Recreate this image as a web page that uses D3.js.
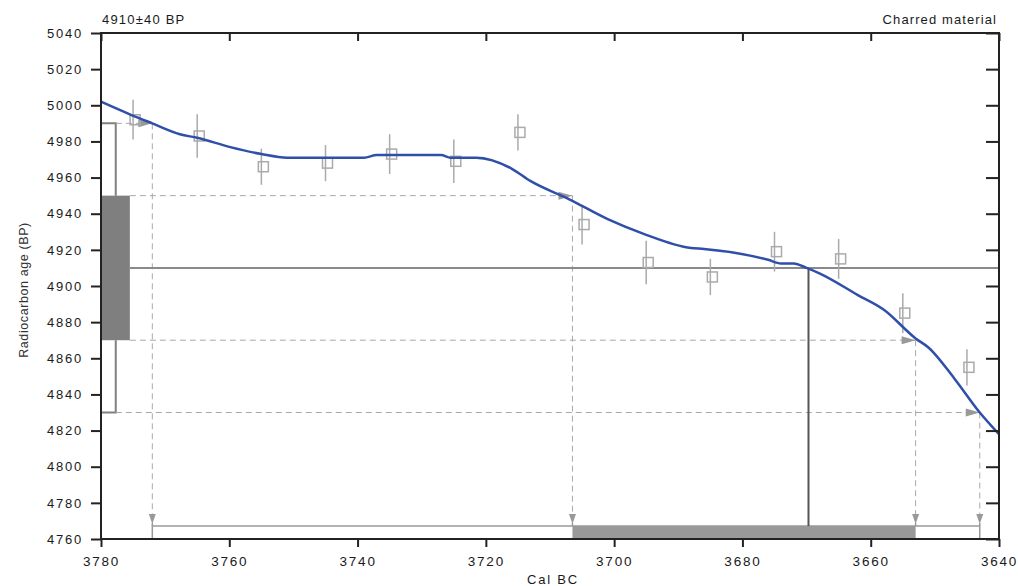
<!DOCTYPE html>
<html>
<head>
<meta charset="utf-8">
<script src="https://cdn.jsdelivr.net/npm/d3@7"></script>
<style>
  body { margin: 0; background: #fff; }
  svg { display: block; font-family: "Liberation Sans", Arial, sans-serif; }
</style>
</head>
<body>
<script>
// calibration curve (cal BC, BP)
const curveYears = [3780, 3775.5, 3772, 3767.7, 3765, 3760, 3755, 3751, 3745, 3739, 3737, 3727, 3725.5, 3721.5, 3716, 3713, 3707, 3701, 3695.5, 3688, 3686, 3676, 3674, 3672, 3670, 3668, 3662, 3658, 3653, 3651, 3647, 3643, 3640];
const curveBP = [5002, 4995, 4990, 4984, 4982, 4977, 4973, 4971, 4971, 4971, 4972.5, 4972.5, 4971, 4971, 4965, 4958, 4948, 4937, 4929, 4921, 4920.5, 4914.5, 4912.5, 4912.5, 4910, 4907, 4895, 4887, 4871, 4866, 4849, 4830, 4818];

// decadal data points with error bars
const pointYears = [3775, 3765, 3755, 3745, 3735, 3725, 3715, 3705, 3695, 3685, 3675, 3665, 3655, 3645];
const pointBP = [4992, 4983, 4966, 4968, 4973, 4969, 4985, 4934, 4913, 4905, 4919, 4915, 4885, 4855];
const pointErr = [11, 12, 10, 10, 11, 12, 10, 11, 12, 10, 11, 11, 11, 10];

// sample
const sampleAge = 4910;
const sampleErr = 40;
const sigmaLevels = [4990, 4950, 4870, 4830];     // +2s, +1s, -1s, -2s
const sigmaYears = [3772, 3706.5, 3653, 3643];      // curve intersections
const interceptYear = 3669.7;

const xTicks = [3780, 3760, 3740, 3720, 3700, 3680, 3660, 3640];
const yTicks = [5040, 5020, 5000, 4980, 4960, 4940, 4920, 4900, 4880, 4860, 4840, 4820, 4800, 4780, 4760];

const width = 1018, height = 586;
const mLeft = 101, mRight = 999, mTop = 33, mBottom = 539;

const svg = d3.select("body").append("svg")
  .attr("width", width)
  .attr("height", height);

const x = d3.scaleLinear().domain([3780, 3640]).range([mLeft, mRight]);
const y = d3.scaleLinear().domain([4760, 5040]).range([mBottom, mTop]);

const gridGrey = "#a8a8a8";
const boxRight = x(3775.5);
const bracketX = x(3777.7);
const barH = 13;

// left box and bracket
svg.append("rect")
  .attr("x", mLeft).attr("y", y(sampleAge + sampleErr))
  .attr("width", boxRight - mLeft)
  .attr("height", y(sampleAge - sampleErr) - y(sampleAge + sampleErr))
  .attr("fill", "#7f7f7f");

svg.append("path")
  .attr("d", "M" + mLeft + "," + y(sampleAge + 2 * sampleErr) +
    "H" + bracketX + "V" + y(sampleAge + sampleErr) +
    "M" + bracketX + "," + y(sampleAge - sampleErr) +
    "V" + y(sampleAge - 2 * sampleErr) + "H" + mLeft)
  .attr("fill", "none").attr("stroke", "#808080").attr("stroke-width", 2);

// bottom range bars
svg.append("rect")
  .attr("x", x(sigmaYears[0])).attr("y", mBottom - barH)
  .attr("width", x(sigmaYears[3]) - x(sigmaYears[0])).attr("height", barH)
  .attr("fill", "#fff").attr("stroke", "#9a9a9a").attr("stroke-width", 1.5);
svg.append("rect")
  .attr("x", x(sigmaYears[1])).attr("y", mBottom - barH)
  .attr("width", x(sigmaYears[2]) - x(sigmaYears[1])).attr("height", barH)
  .attr("fill", "#999");

// dashed guides
sigmaLevels.forEach((lvl, i) => {
  const x0 = (i === 0 || i === 3) ? bracketX : boxRight;
  svg.append("line")
    .attr("x1", x0).attr("x2", x(sigmaYears[i]))
    .attr("y1", y(lvl)).attr("y2", y(lvl))
    .attr("stroke", gridGrey).attr("stroke-width", 1)
    .attr("stroke-dasharray", "6,4");
  svg.append("line")
    .attr("x1", x(sigmaYears[i])).attr("x2", x(sigmaYears[i]))
    .attr("y1", y(lvl)).attr("y2", mBottom - barH - 10)
    .attr("stroke", gridGrey).attr("stroke-width", 1)
    .attr("stroke-dasharray", "6,4");
  // arrow into curve
  const ax = x(sigmaYears[i]), ay = y(lvl);
  svg.append("path")
    .attr("d", "M" + (ax - 14) + "," + (ay - 4) + "L" + ax + "," + ay + "L" + (ax - 14) + "," + (ay + 4) + "Z")
    .attr("fill", "#999");
  // arrow down onto bar
  const by = mBottom - barH;
  svg.append("path")
    .attr("d", "M" + (ax - 3.5) + "," + (by - 12) + "L" + (ax + 3.5) + "," + (by - 12) + "L" + ax + "," + (by - 2) + "Z")
    .attr("fill", "#999");
  svg.append("line")
    .attr("x1", ax).attr("x2", ax).attr("y1", by - 3).attr("y2", by)
    .attr("stroke", "#999").attr("stroke-width", 1.5);
});

// sample age line and intercept
svg.append("line")
  .attr("x1", boxRight).attr("x2", mRight)
  .attr("y1", y(sampleAge)).attr("y2", y(sampleAge))
  .attr("stroke", "#8a8a8a").attr("stroke-width", 2);
svg.append("line")
  .attr("x1", x(interceptYear)).attr("x2", x(interceptYear))
  .attr("y1", y(sampleAge)).attr("y2", mBottom - barH)
  .attr("stroke", "#555").attr("stroke-width", 2);

// data points
const pts = svg.append("g").selectAll("g")
  .data(pointYears.map((yr, i) => ({ yr: yr, bp: pointBP[i], e: pointErr[i] })))
  .enter().append("g");
pts.append("line")
  .attr("x1", d => x(d.yr)).attr("x2", d => x(d.yr))
  .attr("y1", d => y(d.bp + d.e)).attr("y2", d => y(d.bp - d.e))
  .attr("stroke", "#aaa").attr("stroke-width", 1.5);
pts.append("rect")
  .attr("x", d => x(d.yr) - 3).attr("y", d => y(d.bp) - 5)
  .attr("width", 10).attr("height", 10)
  .attr("fill", "none").attr("stroke", "#aaa").attr("stroke-width", 1.5);

// curve
svg.append("path")
  .datum(curveYears.map((yr, i) => [yr, curveBP[i]]))
  .attr("d", d3.line().x(d => x(d[0])).y(d => y(d[1])).curve(d3.curveMonotoneX))
  .attr("fill", "none").attr("stroke", "#2f4fa8").attr("stroke-width", 2.5);

// axes
function styleAxis(g) {
  g.select(".domain").remove();
  g.selectAll(".tick line").attr("stroke", "#222").attr("stroke-width", 2);
  g.selectAll(".tick text")
    .attr("fill", "#1a1a1a")
    .style("font-size", "13px")
    .style("letter-spacing", "1.8px");
}

svg.append("g")
  .attr("transform", "translate(" + mLeft + ",0)")
  .call(d3.axisLeft(y).tickValues(yTicks).tickSize(10).tickPadding(8).tickFormat(d3.format("d")))
  .call(styleAxis);

svg.append("g")
  .attr("transform", "translate(0," + mBottom + ")")
  .call(d3.axisBottom(x).tickValues(xTicks).tickSize(8).tickPadding(9).tickFormat(d3.format("d")))
  .call(styleAxis)
  .call(g => g.selectAll(".tick text").style("font-size", "13.5px"));

svg.append("g")
  .attr("transform", "translate(0," + mTop + ")")
  .call(d3.axisBottom(x).tickValues(xTicks).tickSize(8).tickFormat(""))
  .call(styleAxis);

svg.append("g")
  .attr("transform", "translate(" + mRight + ",0)")
  .call(d3.axisLeft(y).tickValues(yTicks).tickSize(13).tickFormat(""))
  .call(styleAxis);

svg.append("rect")
  .attr("x", mLeft).attr("y", mTop)
  .attr("width", mRight - mLeft).attr("height", mBottom - mTop)
  .attr("fill", "none").attr("stroke", "#222").attr("stroke-width", 2);

// texts
svg.append("text")
  .attr("x", mLeft + 1).attr("y", 24)
  .style("font-size", "13px").style("letter-spacing", "1.2px")
  .attr("fill", "#1a1a1a")
  .text("4910\u00b140 BP");

svg.append("text")
  .attr("x", 997).attr("y", 24)
  .attr("text-anchor", "end")
  .style("font-size", "13px").style("letter-spacing", "1.1px")
  .attr("fill", "#1a1a1a")
  .text("Charred material");

svg.append("text")
  .attr("transform", "translate(28," + ((mTop + mBottom) / 2 + 4) + ") rotate(-90)")
  .attr("text-anchor", "middle")
  .style("font-size", "12.5px").style("letter-spacing", "0.6px")
  .attr("fill", "#333")
  .text("Radiocarbon age (BP)");

svg.append("text")
  .attr("x", 553).attr("y", 584)
  .attr("text-anchor", "middle")
  .style("font-size", "13px").style("letter-spacing", "1.8px")
  .attr("fill", "#1a1a1a")
  .text("Cal BC");
</script>
</body>
</html>
